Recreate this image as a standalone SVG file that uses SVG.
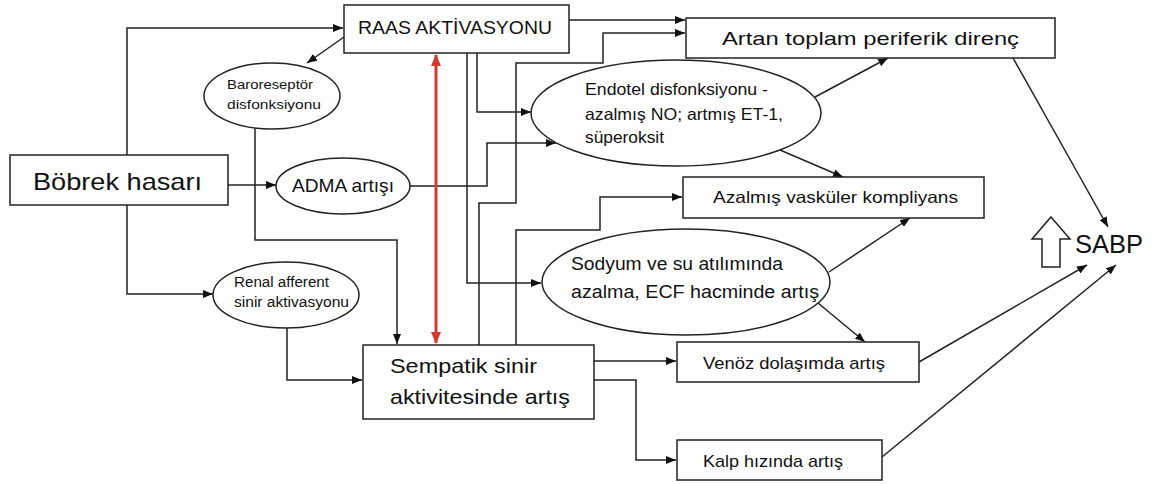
<svg xmlns="http://www.w3.org/2000/svg" width="1152" height="484" viewBox="0 0 1152 484">
<style>
.n{fill:#fff;stroke:#222;stroke-width:1.5}
.t{font-family:"Liberation Sans",Arial,sans-serif;fill:#111}
.c{fill:none;stroke:#222;stroke-width:1.5}
</style>
<defs>
<marker id="ah" markerWidth="10" markerHeight="8" refX="10" refY="4" orient="auto" markerUnits="userSpaceOnUse"><path d="M0,0 L10,4 L0,8 z" fill="#111"/></marker>
<marker id="rh" markerWidth="12" markerHeight="10" refX="11" refY="5" orient="auto-start-reverse" markerUnits="userSpaceOnUse"><path d="M0,0 L12,5 L0,10 z" fill="#d33a2c"/></marker>
</defs>
<rect width="1152" height="484" fill="#fff"/>
<g id="connectors">
<path class="c" d="M127,155 V28 H343" marker-end="url(#ah)"/>
<path class="c" d="M344,37 L307,63" marker-end="url(#ah)"/>
<path class="c" d="M255,129 V240 H397 V344" marker-end="url(#ah)"/>
<path class="c" d="M228,185 H276" marker-end="url(#ah)"/>
<path class="c" d="M127,205 V294 H213" marker-end="url(#ah)"/>
<path class="c" d="M287,328 V380 H362" marker-end="url(#ah)"/>
<path class="c" d="M410,186 H487 V143 H556" marker-end="url(#ah)"/>
<path class="c" d="M477,53 V112 H531" marker-end="url(#ah)"/>
<path class="c" d="M467,53 V283 H541" marker-end="url(#ah)"/>
<path class="c" d="M479,345 V203 H516 V63 H603 V33 H685" marker-end="url(#ah)"/>
<path class="c" d="M569,20 H685" marker-end="url(#ah)"/>
<path class="c" d="M516,345 V230 H600 V197 H682" marker-end="url(#ah)"/>
<path class="c" d="M815,97 L888,58" marker-end="url(#ah)"/>
<path class="c" d="M780,150 L843,177" marker-end="url(#ah)"/>
<path class="c" d="M829,272 L910,218" marker-end="url(#ah)"/>
<path class="c" d="M812,298 L865,342" marker-end="url(#ah)"/>
<path class="c" d="M594,361 H676" marker-end="url(#ah)"/>
<path class="c" d="M594,380 H636 V460 H676" marker-end="url(#ah)"/>
<path class="c" d="M1013,58 L1108,227" marker-end="url(#ah)"/>
<path class="c" d="M919,362 L1087,265" marker-end="url(#ah)"/>
<path class="c" d="M882,457 L1116,265" marker-end="url(#ah)"/>
<path d="M436,55 V343" fill="none" stroke="#d33a2c" stroke-width="3" marker-start="url(#rh)" marker-end="url(#rh)"/>
</g>
<g id="raas"><rect class="n" x="344" y="5" width="225" height="48"/><text class="t" x="358" y="34" font-size="18" textLength="194" lengthAdjust="spacingAndGlyphs">RAAS AKTİVASYONU</text></g>
<g id="artan"><rect class="n" x="686" y="18" width="369" height="40"/><text class="t" x="722" y="45" font-size="19" textLength="297" lengthAdjust="spacingAndGlyphs">Artan toplam periferik direnç</text></g>
<g id="baro"><ellipse class="n" cx="272" cy="96" rx="68" ry="33"/><text class="t" font-size="13.5"><tspan x="227" y="89" textLength="86" lengthAdjust="spacingAndGlyphs">Baroreseptör</tspan><tspan x="227" y="109" textLength="94" lengthAdjust="spacingAndGlyphs">disfonksiyonu</tspan></text></g>
<g id="bobrek"><rect class="n" x="10" y="155" width="218" height="50"/><text class="t" x="33" y="190" font-size="24" textLength="169" lengthAdjust="spacingAndGlyphs">Böbrek hasarı</text></g>
<g id="adma"><ellipse class="n" cx="343" cy="186" rx="67" ry="28"/><text class="t" x="292" y="192" font-size="19" textLength="102" lengthAdjust="spacingAndGlyphs">ADMA artışı</text></g>
<g id="renal"><ellipse class="n" cx="286" cy="295" rx="73" ry="33"/><text class="t" font-size="14"><tspan x="234" y="287" textLength="95" lengthAdjust="spacingAndGlyphs">Renal afferent</tspan><tspan x="234" y="307" textLength="115" lengthAdjust="spacingAndGlyphs">sinir aktivasyonu</tspan></text></g>
<g id="endotel"><ellipse class="n" cx="676" cy="113" rx="145" ry="53"/><text class="t" font-size="16.5"><tspan x="585" y="95" textLength="183" lengthAdjust="spacingAndGlyphs">Endotel disfonksiyonu -</tspan><tspan x="585" y="120" textLength="198" lengthAdjust="spacingAndGlyphs">azalmış NO; artmış ET-1,</tspan><tspan x="585" y="143" textLength="79" lengthAdjust="spacingAndGlyphs">süperoksit</tspan></text></g>
<g id="azalmis"><rect class="n" x="683" y="177" width="301" height="41"/><text class="t" x="713" y="203" font-size="16.5" textLength="245" lengthAdjust="spacingAndGlyphs">Azalmış vasküler kompliyans</text></g>
<g id="sodyum"><ellipse class="n" cx="686" cy="282" rx="144" ry="53"/><text class="t" font-size="17.5"><tspan x="571" y="270" textLength="212" lengthAdjust="spacingAndGlyphs">Sodyum ve su atılımında</tspan><tspan x="571" y="298" textLength="248" lengthAdjust="spacingAndGlyphs">azalma, ECF hacminde artış</tspan></text></g>
<g id="sempatik"><rect class="n" x="363" y="345" width="231" height="74"/><text class="t" font-size="21"><tspan x="390" y="373" textLength="147" lengthAdjust="spacingAndGlyphs">Sempatik sinir</tspan><tspan x="390" y="404" textLength="180" lengthAdjust="spacingAndGlyphs">aktivitesinde artış</tspan></text></g>
<g id="venoz"><rect class="n" x="677" y="342" width="242" height="40"/><text class="t" x="703" y="369" font-size="17" textLength="182" lengthAdjust="spacingAndGlyphs">Venöz dolaşımda artış</text></g>
<g id="kalp"><rect class="n" x="677" y="440" width="205" height="40"/><text class="t" x="703" y="467" font-size="17" textLength="140" lengthAdjust="spacingAndGlyphs">Kalp hızında artış</text></g>
<g id="sabp"><polygon class="n" points="1051,217 1070,239 1060,239 1060,267 1042,267 1042,239 1032,239"/><text class="t" x="1075" y="253" font-size="25" textLength="68" lengthAdjust="spacingAndGlyphs">SABP</text></g>
</svg>
